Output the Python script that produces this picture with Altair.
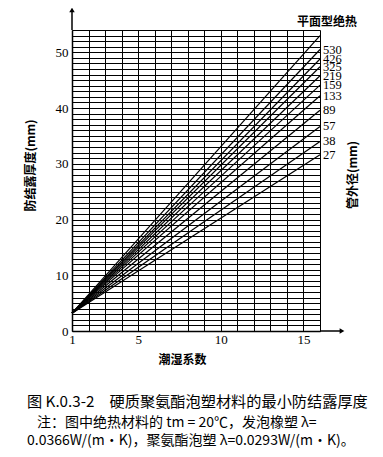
import altair as alt
import pandas as pd

# ---- data ----
series = ["平面型", "530", "426", "325", "219", "159", "133", "89", "57", "38", "27"]
start_x = 1
end_x = 16
start_y = [3.2, 3.2, 3.2, 3.2, 3.2, 3.2, 3.2, 3.2, 3.2, 3.2, 3.2]
end_y = [53.0, 50.5, 48.8, 47.4, 45.8, 44.1, 42.2, 39.6, 36.7, 34.0, 31.6]
x_grid = list(range(1, 17))
y_grid = list(range(0, 55))

caption1 = "图 K.0.3-2　硬质聚氨酯泡塑材料的最小防结露厚度"
caption2 = "注：图中绝热材料的 tm = 20℃，发泡橡塑 λ="
caption3 = "0.0366W/(m·K)，聚氨酯泡塑 λ=0.0293W/(m·K)。"

rows = []
for s, y0, y1 in zip(series, start_y, end_y):
    rows.append({"s": s, "x": start_x, "y": y0})
    rows.append({"s": s, "x": end_x, "y": y1})
lines_df = pd.DataFrame(rows)
labels_df = pd.DataFrame({"s": series[1:], "x": [end_x] * (len(series) - 1), "y": end_y[1:]})

SERIF = "Liberation Serif"
CJK = "Noto Sans CJK SC"

xs = alt.Scale(domain=[1, 16], nice=False, zero=False)
ys = alt.Scale(domain=[0, 54], nice=False, zero=False)

x_axis = alt.Axis(
    values=x_grid, tickCount=100, format="d",
    labelExpr="(datum.value == 1 || datum.value % 5 == 0) ? datum.label : ''",
    labelOverlap=False,
    grid=True, gridColor="black", gridOpacity=1, gridWidth=1,
    domain=True, domainColor="black", domainWidth=1.5,
    ticks=False, labelFont=SERIF, labelFontSize=13, labelColor="black",
    labelPadding=2, labelFlush=False,
    title="潮湿系数", titleFont=CJK, titleFontSize=12, titleFontWeight="bold",
    titleColor="black", titleX=110, titleY=28, titleBaseline="middle",
)
y_axis = alt.Axis(
    values=y_grid, tickCount=100, format="d",
    labelExpr="datum.value % 10 == 0 ? datum.label : ''",
    labelOverlap=False,
    grid=True, gridColor="black", gridOpacity=1, gridWidth=1,
    domain=True, domainColor="black", domainWidth=1.5,
    ticks=False, labelFont=SERIF, labelFontSize=13, labelColor="black",
    labelPadding=4, labelFlush=False,
    title="防结露厚度(mm)", titleFont=CJK, titleFontSize=12, titleFontWeight="bold",
    titleColor="black", titleX=-42, titleY=135, titleAngle=-90, titleBaseline="middle",
)

lines = alt.Chart(lines_df).mark_line(color="black", strokeWidth=1.2).encode(
    x=alt.X("x:Q", scale=xs, axis=x_axis),
    y=alt.Y("y:Q", scale=ys, axis=y_axis),
    detail="s:N",
)

labels = alt.Chart(labels_df).mark_text(
    align="left", baseline="middle", dx=3, font=SERIF, fontSize=12.5, color="black"
).encode(
    x=alt.X("x:Q", scale=xs),
    y=alt.Y("y:Q", scale=ys),
    text="s:N",
)

def txt(t, x, y, size, weight="normal", angle=0, font=CJK, align="center"):
    return alt.Chart(pd.DataFrame({"t": [t]})).mark_text(
        align=align, baseline="middle", fontSize=size, fontWeight=weight,
        angle=angle, font=font, color="black"
    ).encode(x=alt.value(x), y=alt.value(y), text="t:N")

header = txt("平面型绝热", 255, -8, 12, "bold")
right_title = txt("管外径(mm)", 281, 145, 12, "bold", angle=270)
cap1 = txt(caption1, -45, 372, 15.2, align="left")
cap2 = txt(caption2, -35, 393, 14, align="left")
cap3 = txt(caption3, -45, 411, 14, align="left")

x_ext = alt.Chart(pd.DataFrame({"a": [0]})).mark_rule(color="black", strokeWidth=1.5).encode(
    x=alt.value(248), x2=alt.value(268), y=alt.value(301))
y_ext = alt.Chart(pd.DataFrame({"a": [0]})).mark_rule(color="black", strokeWidth=1.5).encode(
    x=alt.value(0), y=alt.value(0), y2=alt.value(-18))
x_arrow = alt.Chart(pd.DataFrame({"a": [0]})).mark_point(
    shape="triangle-right", filled=True, color="black", size=30, opacity=1
).encode(x=alt.value(270), y=alt.value(301))
y_arrow = alt.Chart(pd.DataFrame({"a": [0]})).mark_point(
    shape="triangle-up", filled=True, color="black", size=30, opacity=1
).encode(x=alt.value(0), y=alt.value(-20))

chart = alt.layer(
    lines, labels, header, right_title, cap1, cap2, cap3, x_ext, y_ext, x_arrow, y_arrow
).properties(
    width=248, height=301,
    autosize=alt.AutoSizeParams(type="none"),
    padding={"left": 64, "top": 22, "right": 55, "bottom": 118},
).configure_view(stroke=None).configure(background="white")

chart.save("out.html", embed_options={"renderer": "svg", "actions": False})
